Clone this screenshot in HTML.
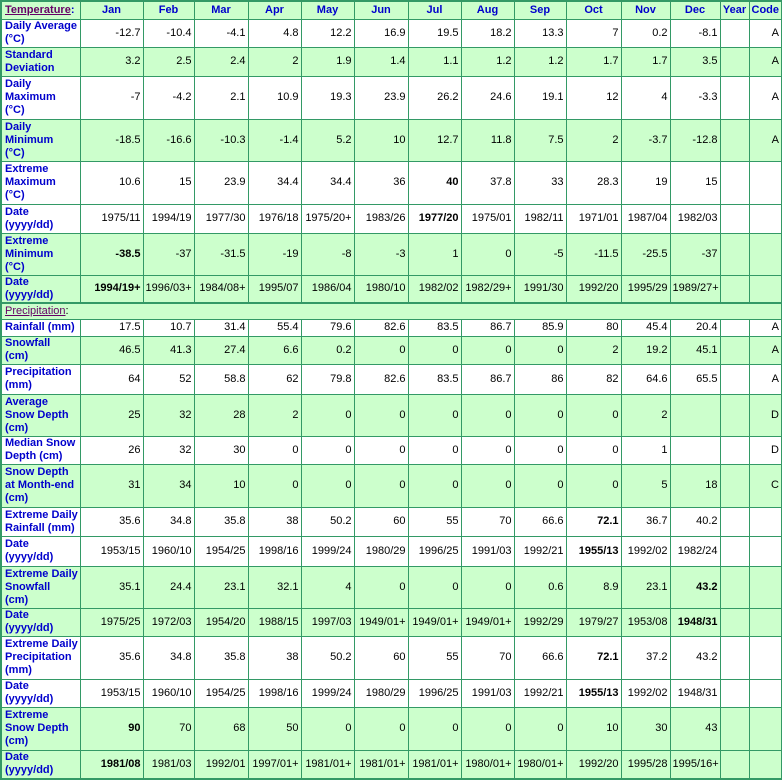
<!DOCTYPE html><html><head><meta charset="utf-8"><style>
body{margin:0;background:#fff}
table{border-collapse:collapse;table-layout:fixed;width:781px;font-family:"Liberation Sans",sans-serif;font-size:11px;border:2px solid #339966}
td{border:1px solid #339966;padding:0 2px 0 2px;text-align:right;color:#000;overflow:hidden;white-space:nowrap;line-height:13px}
td:first-child{text-align:left;font-weight:bold;color:#0000cc;padding-left:3px;padding-right:0}
tr.g td{background:#ccffcc}
tr.h td{background:#ccffcc;text-align:center;font-weight:bold;color:#0000cc}
tr.h td:first-child{text-align:left}
.s{color:#660066;text-decoration:underline}
.sec td{border-top:2px solid #339966}
b{font-weight:bold}
</style></head><body>
<table>
<colgroup><col style="width:79px"><col style="width:63px"><col style="width:51px"><col style="width:54px"><col style="width:53px"><col style="width:53px"><col style="width:54px"><col style="width:53px"><col style="width:53px"><col style="width:52px"><col style="width:55px"><col style="width:49px"><col style="width:50px"><col style="width:29px"><col style="width:33px"></colgroup>
<tr class="h" style="height:18px"><td><span class="s">Temperature</span>:</td><td>Jan</td><td>Feb</td><td>Mar</td><td>Apr</td><td>May</td><td>Jun</td><td>Jul</td><td>Aug</td><td>Sep</td><td>Oct</td><td>Nov</td><td>Dec</td><td>Year</td><td>Code</td></tr>
<tr style="height:28px"><td>Daily Average<br>(°C)</td><td>-12.7</td><td>-10.4</td><td>-4.1</td><td>4.8</td><td>12.2</td><td>16.9</td><td>19.5</td><td>18.2</td><td>13.3</td><td>7</td><td>0.2</td><td>-8.1</td><td></td><td>A</td></tr>
<tr class="g" style="height:29px"><td>Standard<br>Deviation</td><td>3.2</td><td>2.5</td><td>2.4</td><td>2</td><td>1.9</td><td>1.4</td><td>1.1</td><td>1.2</td><td>1.2</td><td>1.7</td><td>1.7</td><td>3.5</td><td></td><td>A</td></tr>
<tr style="height:43px"><td>Daily<br>Maximum<br>(°C)</td><td>-7</td><td>-4.2</td><td>2.1</td><td>10.9</td><td>19.3</td><td>23.9</td><td>26.2</td><td>24.6</td><td>19.1</td><td>12</td><td>4</td><td>-3.3</td><td></td><td>A</td></tr>
<tr class="g" style="height:42px"><td>Daily<br>Minimum<br>(°C)</td><td>-18.5</td><td>-16.6</td><td>-10.3</td><td>-1.4</td><td>5.2</td><td>10</td><td>12.7</td><td>11.8</td><td>7.5</td><td>2</td><td>-3.7</td><td>-12.8</td><td></td><td>A</td></tr>
<tr style="height:43px"><td>Extreme<br>Maximum<br>(°C)</td><td>10.6</td><td>15</td><td>23.9</td><td>34.4</td><td>34.4</td><td>36</td><td><b>40</b></td><td>37.8</td><td>33</td><td>28.3</td><td>19</td><td>15</td><td></td><td></td></tr>
<tr style="height:29px"><td>Date<br>(yyyy/dd)</td><td>1975/11</td><td>1994/19</td><td>1977/30</td><td>1976/18</td><td>1975/20+</td><td>1983/26</td><td><b>1977/20</b></td><td>1975/01</td><td>1982/11</td><td>1971/01</td><td>1987/04</td><td>1982/03</td><td></td><td></td></tr>
<tr class="g" style="height:42px"><td>Extreme<br>Minimum<br>(°C)</td><td><b>-38.5</b></td><td>-37</td><td>-31.5</td><td>-19</td><td>-8</td><td>-3</td><td>1</td><td>0</td><td>-5</td><td>-11.5</td><td>-25.5</td><td>-37</td><td></td><td></td></tr>
<tr class="g" style="height:28px"><td>Date<br>(yyyy/dd)</td><td><b>1994/19+</b></td><td>1996/03+</td><td>1984/08+</td><td>1995/07</td><td>1986/04</td><td>1980/10</td><td>1982/02</td><td>1982/29+</td><td>1991/30</td><td>1992/20</td><td>1995/29</td><td>1989/27+</td><td></td><td></td></tr>
<tr class="g sec" style="height:16px"><td colspan="15" style="text-align:left;font-weight:normal;color:#000"><span class="s">Precipitation</span>:</td></tr>
<tr style="height:17px"><td>Rainfall (mm)</td><td>17.5</td><td>10.7</td><td>31.4</td><td>55.4</td><td>79.6</td><td>82.6</td><td>83.5</td><td>86.7</td><td>85.9</td><td>80</td><td>45.4</td><td>20.4</td><td></td><td>A</td></tr>
<tr class="g" style="height:28px"><td>Snowfall<br>(cm)</td><td>46.5</td><td>41.3</td><td>27.4</td><td>6.6</td><td>0.2</td><td>0</td><td>0</td><td>0</td><td>0</td><td>2</td><td>19.2</td><td>45.1</td><td></td><td>A</td></tr>
<tr style="height:30px"><td>Precipitation<br>(mm)</td><td>64</td><td>52</td><td>58.8</td><td>62</td><td>79.8</td><td>82.6</td><td>83.5</td><td>86.7</td><td>86</td><td>82</td><td>64.6</td><td>65.5</td><td></td><td>A</td></tr>
<tr class="g" style="height:42px"><td>Average<br>Snow Depth<br>(cm)</td><td>25</td><td>32</td><td>28</td><td>2</td><td>0</td><td>0</td><td>0</td><td>0</td><td>0</td><td>0</td><td>2</td><td></td><td></td><td>D</td></tr>
<tr style="height:28px"><td>Median Snow<br>Depth (cm)</td><td>26</td><td>32</td><td>30</td><td>0</td><td>0</td><td>0</td><td>0</td><td>0</td><td>0</td><td>0</td><td>1</td><td></td><td></td><td>D</td></tr>
<tr class="g" style="height:43px"><td>Snow Depth<br>at Month-end<br>(cm)</td><td>31</td><td>34</td><td>10</td><td>0</td><td>0</td><td>0</td><td>0</td><td>0</td><td>0</td><td>0</td><td>5</td><td>18</td><td></td><td>C</td></tr>
<tr style="height:29px"><td>Extreme Daily<br>Rainfall (mm)</td><td>35.6</td><td>34.8</td><td>35.8</td><td>38</td><td>50.2</td><td>60</td><td>55</td><td>70</td><td>66.6</td><td><b>72.1</b></td><td>36.7</td><td>40.2</td><td></td><td></td></tr>
<tr style="height:30px"><td>Date<br>(yyyy/dd)</td><td>1953/15</td><td>1960/10</td><td>1954/25</td><td>1998/16</td><td>1999/24</td><td>1980/29</td><td>1996/25</td><td>1991/03</td><td>1992/21</td><td><b>1955/13</b></td><td>1992/02</td><td>1982/24</td><td></td><td></td></tr>
<tr class="g" style="height:42px"><td>Extreme Daily<br>Snowfall<br>(cm)</td><td>35.1</td><td>24.4</td><td>23.1</td><td>32.1</td><td>4</td><td>0</td><td>0</td><td>0</td><td>0.6</td><td>8.9</td><td>23.1</td><td><b>43.2</b></td><td></td><td></td></tr>
<tr class="g" style="height:28px"><td>Date<br>(yyyy/dd)</td><td>1975/25</td><td>1972/03</td><td>1954/20</td><td>1988/15</td><td>1997/03</td><td>1949/01+</td><td>1949/01+</td><td>1949/01+</td><td>1992/29</td><td>1979/27</td><td>1953/08</td><td><b>1948/31</b></td><td></td><td></td></tr>
<tr style="height:43px"><td>Extreme Daily<br>Precipitation<br>(mm)</td><td>35.6</td><td>34.8</td><td>35.8</td><td>38</td><td>50.2</td><td>60</td><td>55</td><td>70</td><td>66.6</td><td><b>72.1</b></td><td>37.2</td><td>43.2</td><td></td><td></td></tr>
<tr style="height:28px"><td>Date<br>(yyyy/dd)</td><td>1953/15</td><td>1960/10</td><td>1954/25</td><td>1998/16</td><td>1999/24</td><td>1980/29</td><td>1996/25</td><td>1991/03</td><td>1992/21</td><td><b>1955/13</b></td><td>1992/02</td><td>1948/31</td><td></td><td></td></tr>
<tr class="g" style="height:43px"><td>Extreme<br>Snow Depth<br>(cm)</td><td><b>90</b></td><td>70</td><td>68</td><td>50</td><td>0</td><td>0</td><td>0</td><td>0</td><td>0</td><td>10</td><td>30</td><td>43</td><td></td><td></td></tr>
<tr class="g" style="height:29px"><td>Date<br>(yyyy/dd)</td><td><b>1981/08</b></td><td>1981/03</td><td>1992/01</td><td>1997/01+</td><td>1981/01+</td><td>1981/01+</td><td>1981/01+</td><td>1980/01+</td><td>1980/01+</td><td>1992/20</td><td>1995/28</td><td>1995/16+</td><td></td><td></td></tr>
</table>
</body></html>
